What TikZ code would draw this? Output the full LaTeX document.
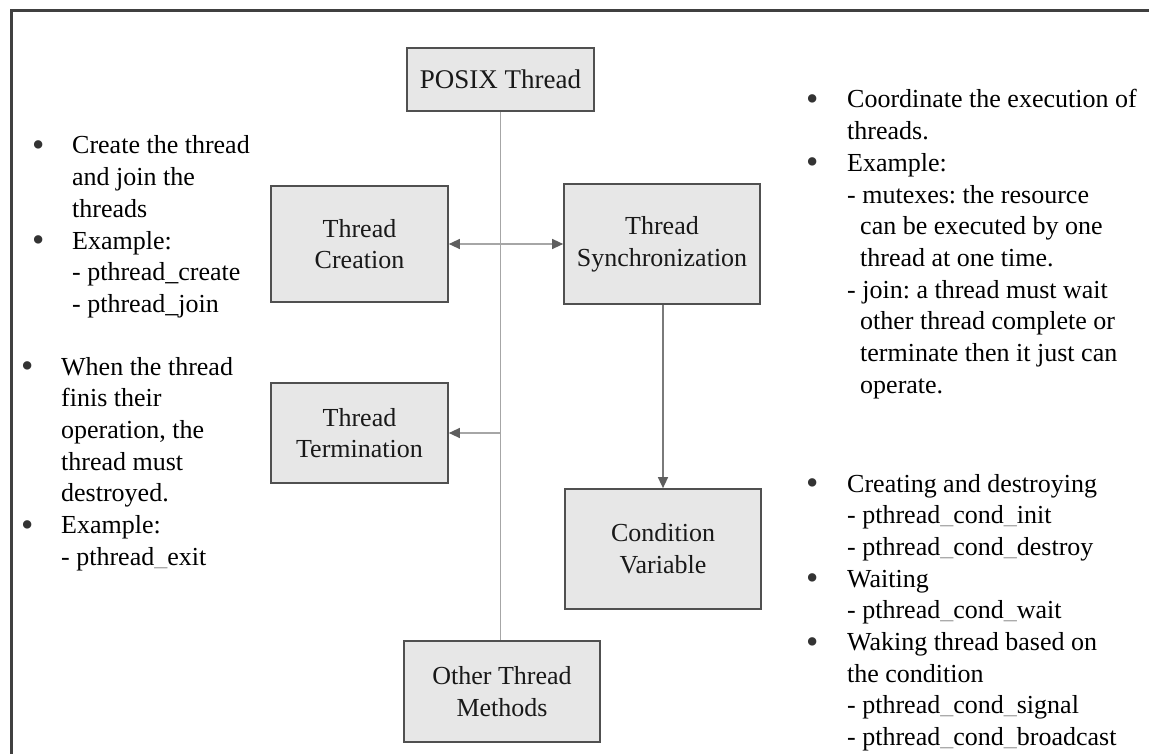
\documentclass[tikz,border=0pt]{standalone}
\usepackage{fontspec}
\setmainfont{Liberation Serif}
\usepackage{array}
\usepackage{graphicx}
\usetikzlibrary{arrows.meta}

\definecolor{boxfill}{HTML}{E7E7E7}
\definecolor{boxline}{HTML}{505050}
\definecolor{linkgray}{HTML}{A6A6A6}
\definecolor{linkdark}{HTML}{7A7A7A}
\definecolor{tipgray}{HTML}{5E5E5E}
\definecolor{framegray}{HTML}{404040}

% underscore variant as printed in the item lists
\newcommand\lus{\textcolor{black!35}{\_}}
% list bullet
\newcommand\itemdot{\raisebox{-2.5pt}{\textcolor{black!80}{\scalebox{1.35}{\textbullet}}}}

\tikzset{
  topic/.style={draw=boxline, line width=1.7pt, fill=boxfill, align=center,
    inner sep=0pt, font=\fontsize{26}{31.7}\selectfont, text=black!90},
  link/.style={draw=linkgray, line width=1.4pt},
  tip/.style={-{Triangle[length=11pt,width=10pt,fill=tipgray,color=tipgray]}},
  twotip/.style={{Triangle[length=11pt,width=10pt,fill=tipgray,color=tipgray]}-{Triangle[length=11pt,width=10pt,fill=tipgray,color=tipgray]}},
  notes/.style={inner sep=0pt, anchor=base west, font=\fontsize{26}{31.7}\selectfont\frenchspacing}
}

\begin{document}
\begin{tikzpicture}[x=1pt, y=-1pt]
\useasboundingbox (0,0) rectangle (1149,754);

% outer frame (top and left edges)
\coordinate (fr1) at (1149,10.5);
\coordinate (fr2) at (11.5,10.5);
\coordinate (fr3) at (11.5,754);
\draw[framegray, line width=2.6pt] (fr1) -- (fr2) -- (fr3);

% topic boxes
\node[topic, minimum width=187pt, minimum height=63pt, font=\fontsize{27}{31.7}\selectfont]
  (posix) at (500.5,79.5) {POSIX Thread};
\node[topic, minimum width=177pt, minimum height=116pt] (create) at (359.5,244) {Thread\\Creation};
\node[topic, minimum width=196pt, minimum height=120pt] (sync) at (662,244) {Thread\\Synchronization};
\node[topic, minimum width=177pt, minimum height=100pt] (term) at (359.5,433) {Thread\\Termination};
\node[topic, minimum width=196pt, minimum height=120pt] (cond) at (663,549) {Condition\\Variable};
\node[topic, minimum width=196pt, minimum height=101pt] (other) at (502,691.5) {Other Thread\\Methods};

% connectors
\draw[link] (posix.south) -- (posix.south |- other.north);
\draw[link, twotip] (create.east) -- (create.east -| sync.west);
\coordinate (tsplit) at (posix.south |- term.east);
\draw[link, tip] (tsplit) -- (term.east);
\draw[link, draw=linkdark, tip] (sync.south -| cond.north) -- (cond.north);

% item lists
\node[notes] (notecreate) at (32,154) {\begin{tabular}[t]{@{}p{40pt}@{}l@{}}
\itemdot & Create the thread\\
 & and join the\\
 & threads\\
\itemdot & Example:\\
 & - pthread\_create\\
 & - pthread\_join
\end{tabular}};

\node[notes] (noteterm) at (21,375) {\begin{tabular}[t]{@{}p{40pt}@{}l@{}}
\itemdot & When the thread\\
 & finis their\\
 & operation, the\\
 & thread must\\
 & destroyed.\\
\itemdot & Example:\\
 & - pthread\lus exit
\end{tabular}};

\node[notes] (notesync) at (806,108) {\begin{tabular}[t]{@{}p{41pt}@{}l@{}}
\itemdot & Coordinate the execution of\\
 & threads.\\
\itemdot & Example:\\
 & - mutexes: the resource\\
 & \hspace*{13pt}can be executed by one\\
 & \hspace*{13pt}thread at one time.\\
 & - join: a thread must wait\\
 & \hspace*{13pt}other thread complete or\\
 & \hspace*{13pt}terminate then it just can\\
 & \hspace*{13pt}operate.
\end{tabular}};

\node[notes] (notecond) at (806,492) {\begin{tabular}[t]{@{}p{41pt}@{}l@{}}
\itemdot & Creating and destroying\\
 & - pthread\lus cond\lus init\\
 & - pthread\lus cond\lus destroy\\
\itemdot & Waiting\\
 & - pthread\lus cond\lus wait\\
\itemdot & Waking thread based on\\
 & the condition\\
 & - pthread\lus cond\lus signal\\
 & - pthread\lus cond\lus broadcast
\end{tabular}};
\end{tikzpicture}
\end{document}
